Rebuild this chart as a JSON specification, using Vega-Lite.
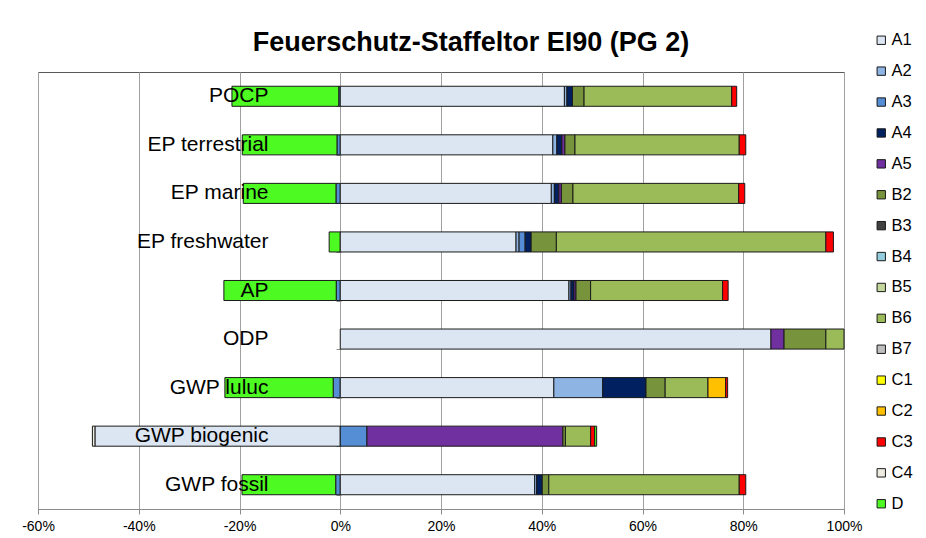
{
  "$schema": "https://vega.github.io/schema/vega-lite/v6.json",
  "width": 806,
  "height": 437,
  "autosize": {"type": "none"},
  "padding": {"left": 38, "top": 72, "right": 82, "bottom": 29},
  "background": "white",
  "config": {"font": "Liberation Sans", "view": {"stroke": "#595959", "strokeWidth": 1}},
  "title": {"text": "Feuerschutz-Staffeltor EI90 (PG 2)", "fontSize": 27, "fontWeight": "bold", "font": "Liberation Sans", "color": "black", "anchor": "middle", "dx": 30, "offset": -25},
  "data": {"values": [
    {"c": "POCP", "m": "A3", "v": -0.3},
    {"c": "POCP", "m": "D", "v": -21.2},
    {"c": "POCP", "m": "A1", "v": 44.5},
    {"c": "POCP", "m": "A2", "v": 0.5},
    {"c": "POCP", "m": "A4", "v": 1.1},
    {"c": "POCP", "m": "B2", "v": 2.3},
    {"c": "POCP", "m": "B6", "v": 29.3},
    {"c": "POCP", "m": "C3", "v": 1.0},
    {"c": "EP terrestrial", "m": "A3", "v": -0.65},
    {"c": "EP terrestrial", "m": "D", "v": -18.8},
    {"c": "EP terrestrial", "m": "A1", "v": 42.2},
    {"c": "EP terrestrial", "m": "A2", "v": 0.8},
    {"c": "EP terrestrial", "m": "A4", "v": 1.0},
    {"c": "EP terrestrial", "m": "A5", "v": 0.6},
    {"c": "EP terrestrial", "m": "B2", "v": 2.0},
    {"c": "EP terrestrial", "m": "B6", "v": 32.6},
    {"c": "EP terrestrial", "m": "C3", "v": 1.3},
    {"c": "EP marine", "m": "A3", "v": -0.85},
    {"c": "EP marine", "m": "D", "v": -18.4},
    {"c": "EP marine", "m": "A1", "v": 41.9},
    {"c": "EP marine", "m": "A2", "v": 0.6},
    {"c": "EP marine", "m": "A4", "v": 0.9},
    {"c": "EP marine", "m": "A5", "v": 0.5},
    {"c": "EP marine", "m": "B2", "v": 2.3},
    {"c": "EP marine", "m": "B6", "v": 32.9},
    {"c": "EP marine", "m": "C3", "v": 1.2},
    {"c": "EP freshwater", "m": "D", "v": -2.2},
    {"c": "EP freshwater", "m": "A1", "v": 34.9},
    {"c": "EP freshwater", "m": "A2", "v": 0.6},
    {"c": "EP freshwater", "m": "A3", "v": 1.2},
    {"c": "EP freshwater", "m": "A4", "v": 1.2},
    {"c": "EP freshwater", "m": "B2", "v": 5.0},
    {"c": "EP freshwater", "m": "B6", "v": 53.5},
    {"c": "EP freshwater", "m": "C3", "v": 1.5},
    {"c": "AP", "m": "A3", "v": -0.8},
    {"c": "AP", "m": "D", "v": -22.3},
    {"c": "AP", "m": "A1", "v": 45.4},
    {"c": "AP", "m": "A2", "v": 0.4},
    {"c": "AP", "m": "A4", "v": 0.6},
    {"c": "AP", "m": "A5", "v": 0.4},
    {"c": "AP", "m": "B2", "v": 2.9},
    {"c": "AP", "m": "B6", "v": 26.2},
    {"c": "AP", "m": "C3", "v": 1.1},
    {"c": "ODP", "m": "A1", "v": 85.5},
    {"c": "ODP", "m": "A5", "v": 2.6},
    {"c": "ODP", "m": "B2", "v": 8.3},
    {"c": "ODP", "m": "B6", "v": 3.6},
    {"c": "GWP luluc", "m": "A3", "v": -1.4},
    {"c": "GWP luluc", "m": "D", "v": -21.5},
    {"c": "GWP luluc", "m": "A1", "v": 42.4},
    {"c": "GWP luluc", "m": "A2", "v": 9.7},
    {"c": "GWP luluc", "m": "A4", "v": 8.6},
    {"c": "GWP luluc", "m": "B2", "v": 3.8},
    {"c": "GWP luluc", "m": "B6", "v": 8.5},
    {"c": "GWP luluc", "m": "C2", "v": 3.5},
    {"c": "GWP luluc", "m": "C3", "v": 0.4},
    {"c": "GWP biogenic", "m": "A1", "v": -48.7},
    {"c": "GWP biogenic", "m": "C4", "v": -0.5},
    {"c": "GWP biogenic", "m": "A3", "v": 5.3},
    {"c": "GWP biogenic", "m": "A5", "v": 38.9},
    {"c": "GWP biogenic", "m": "B2", "v": 0.5},
    {"c": "GWP biogenic", "m": "B6", "v": 5.0},
    {"c": "GWP biogenic", "m": "C3", "v": 0.8},
    {"c": "GWP biogenic", "m": "D", "v": 0.4},
    {"c": "GWP fossil", "m": "A3", "v": -0.9},
    {"c": "GWP fossil", "m": "D", "v": -18.6},
    {"c": "GWP fossil", "m": "A1", "v": 38.6},
    {"c": "GWP fossil", "m": "A2", "v": 0.4},
    {"c": "GWP fossil", "m": "A4", "v": 1.1},
    {"c": "GWP fossil", "m": "B2", "v": 1.3},
    {"c": "GWP fossil", "m": "B6", "v": 37.8},
    {"c": "GWP fossil", "m": "C3", "v": 1.3}
  ]},
  "layer": [
    {
      "mark": {"type": "bar", "stroke": "#1a1a1a", "strokeWidth": 1},
      "encoding": {
        "y": {
          "field": "c", "type": "nominal",
          "sort": ["POCP", "EP terrestrial", "EP marine", "EP freshwater", "AP", "ODP", "GWP luluc", "GWP biogenic", "GWP fossil"],
          "scale": {"paddingInner": 0.587, "paddingOuter": 0.2935},
          "axis": {"title": null, "orient": "left", "offset": -230, "ticks": false, "tickSize": 0, "domain": false, "labelPadding": 0, "labelFontSize": 21, "labelColor": "black", "zindex": 1, "labelLimit": 300}
        },
        "x": {
          "field": "v", "type": "quantitative", "stack": "zero",
          "scale": {"domain": [-60, 100], "nice": false, "zero": false},
          "axis": {"title": null, "values": [-60, -40, -20, 0, 20, 40, 60, 80, 100], "labelExpr": "datum.value + '%'", "labelFlush": false, "labelOverlap": false, "grid": true, "gridColor": "#A0A0A0", "domainColor": "#8C8C8C", "tickColor": "#8C8C8C", "tickSize": 5, "labelPadding": 5, "labelFontSize": 14, "labelColor": "black", "zindex": 0}
        },
        "color": {
          "field": "m", "type": "nominal",
          "scale": {
            "domain": ["A1", "A2", "A3", "A4", "A5", "B2", "B3", "B4", "B5", "B6", "B7", "C1", "C2", "C3", "C4", "D"],
            "range": ["#DCE6F2", "#8EB4E3", "#558ED5", "#002060", "#7030A0", "#77933C", "#404040", "#93CDDD", "#C3D69B", "#9BBB59", "#BFBFBF", "#FFFF00", "#FFC000", "#FF0000", "#EEECE1", "#4DFA22"]
          },
          "legend": {"title": null, "orient": "none", "legendX": 835, "legendY": -40, "symbolType": "square", "symbolSize": 70, "symbolStrokeColor": "#1a1a1a", "symbolStrokeWidth": 1, "symbolOpacity": 1, "labelFontSize": 16.5, "labelColor": "black", "rowPadding": 13.9, "labelOffset": 2}
        },
        "order": {"field": "m", "sort": "ascending"}
      }
    },
    {
      "data": {"values": [{"c": "POCP"}, {"c": "GWP fossil"}]},
      "mark": {"type": "rule", "opacity": 0},
      "encoding": {
        "y": {
          "field": "c", "type": "nominal",
          "sort": ["POCP", "EP terrestrial", "EP marine", "EP freshwater", "AP", "ODP", "GWP luluc", "GWP biogenic", "GWP fossil"],
          "axis": {"title": null, "orient": "left", "offset": -303, "labels": false, "domain": false, "ticks": true, "tickBand": "extent", "tickSize": 5, "tickColor": "#8C8C8C", "grid": false}
        },
        "x": {"datum": 0}
      }
    }
  ],
  "resolve": {"axis": {"y": "independent"}}
}
